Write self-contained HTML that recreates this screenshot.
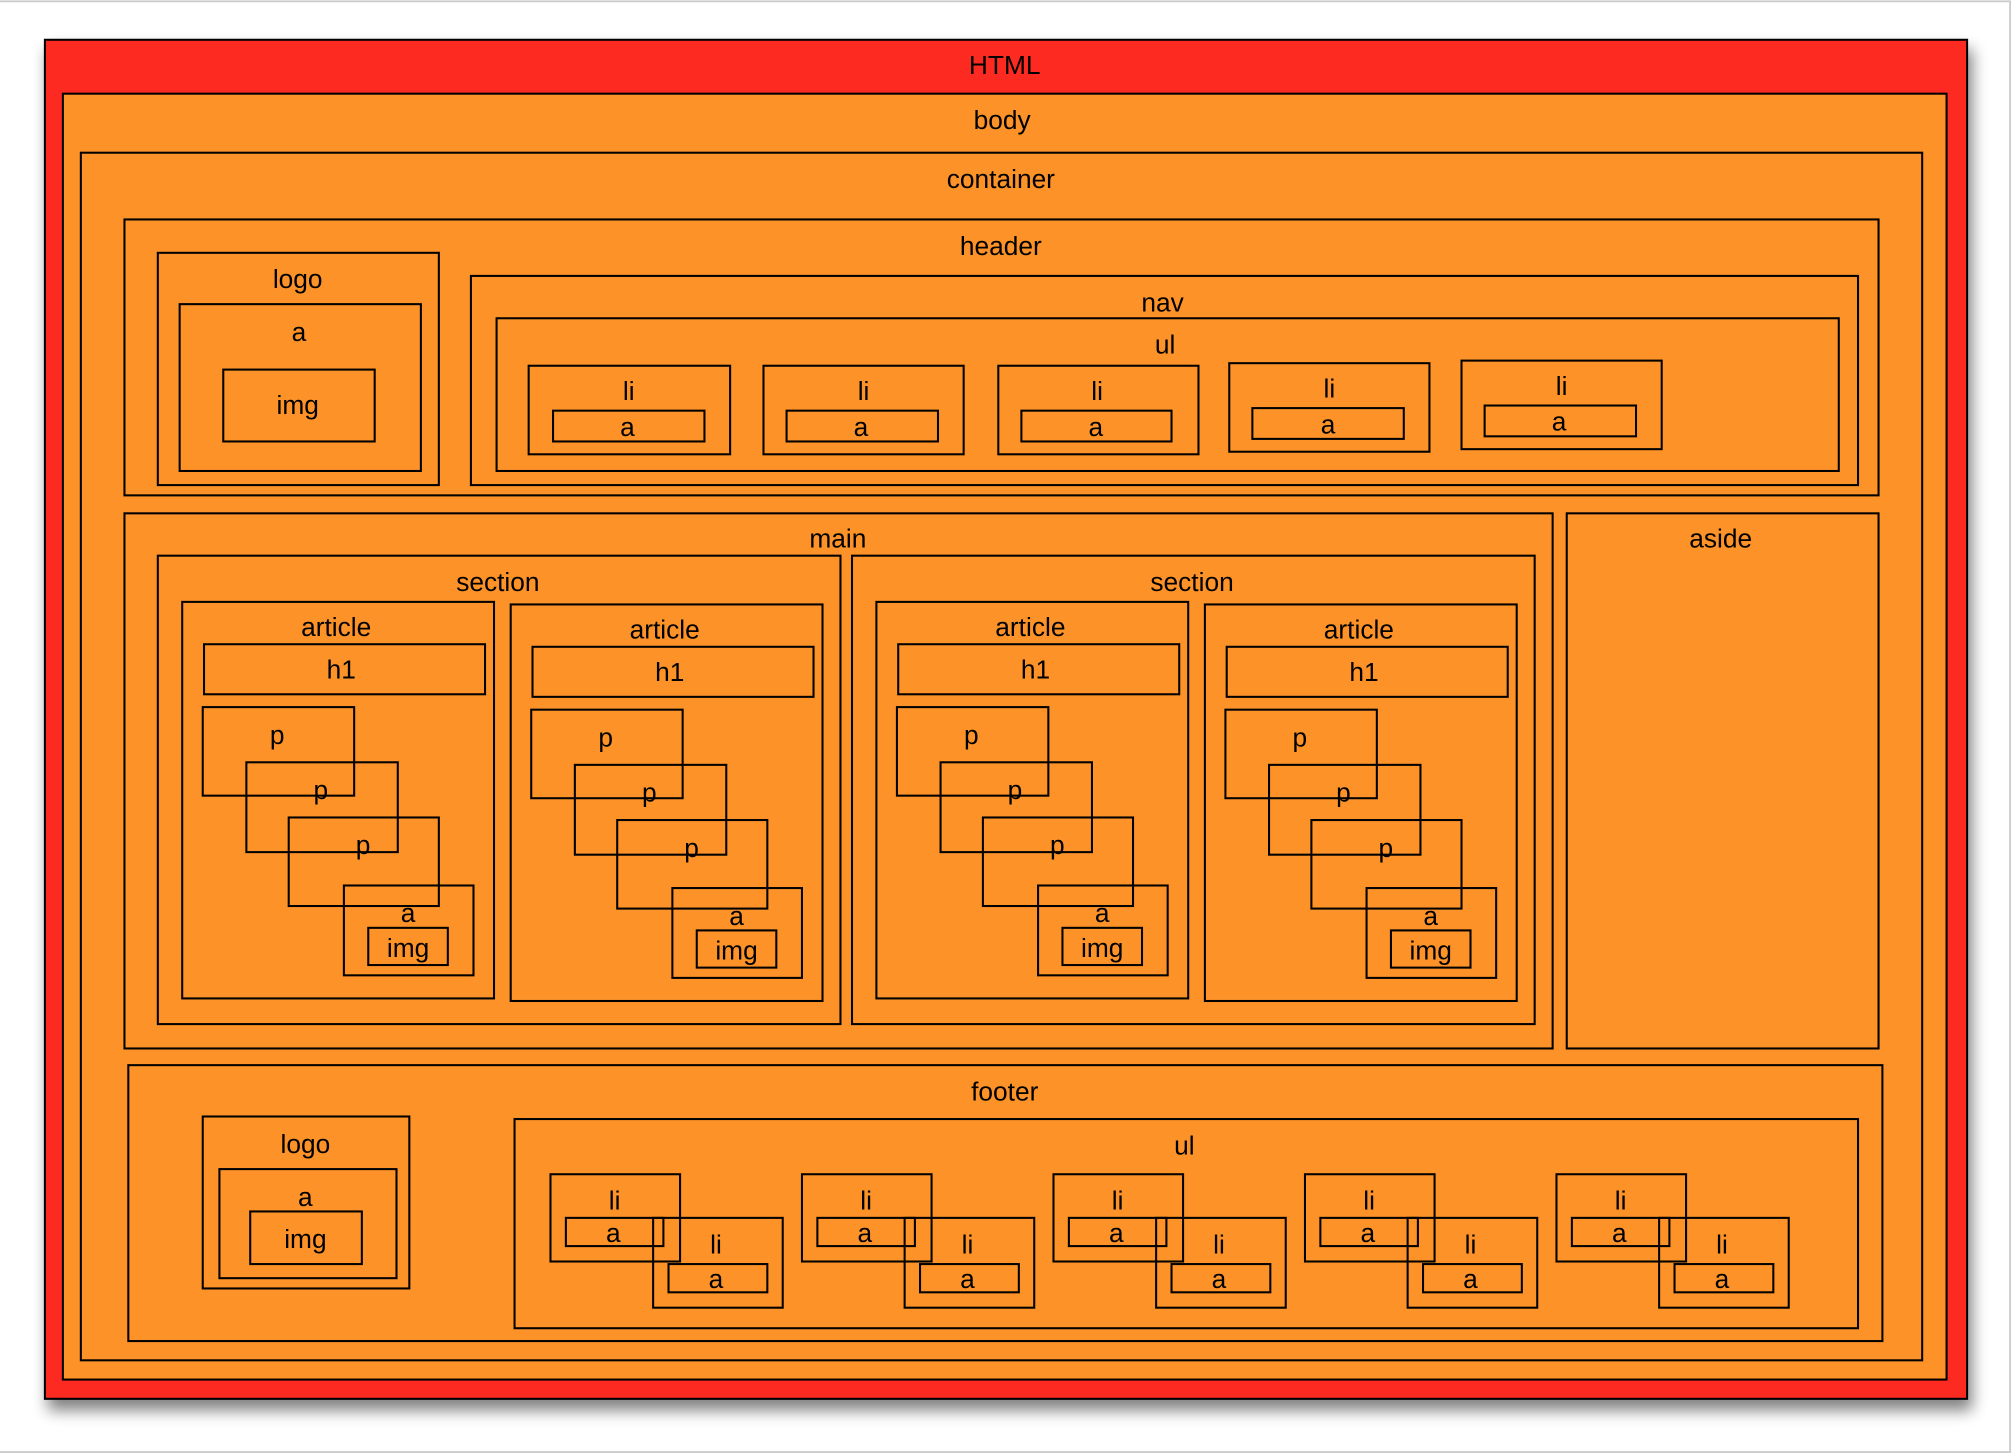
<!DOCTYPE html>
<html><head><meta charset="utf-8"><style>
html,body{margin:0;padding:0;background:#fff;}
svg{display:block;}
text{font-family:"Liberation Sans",sans-serif;font-size:20.5px;fill:#000;text-anchor:middle;dominant-baseline:middle;}
.b{fill:none;stroke:#000;stroke-width:1.6;}
</style></head><body>
<svg width="2012" height="1454" viewBox="0 0 1568 1133" preserveAspectRatio="none" xmlns="http://www.w3.org/2000/svg">
<defs><filter id="sh" x="-5%" y="-5%" width="110%" height="115%"><feGaussianBlur in="SourceAlpha" stdDeviation="6"/><feOffset dx="3" dy="8"/><feComponentTransfer><feFuncA type="linear" slope="0.5"/></feComponentTransfer><feMerge><feMergeNode/><feMergeNode in="SourceGraphic"/></feMerge></filter></defs>
<rect x="0" y="0" width="1568" height="1133" fill="#fff"/>
<path d="M0 1 H1566.5 V1131.5 H0" fill="none" stroke="#ccc" stroke-width="1.5"/>
<rect x="35" y="31" width="1498" height="1059" fill="#FD2C20" stroke="#000" stroke-width="1.6" filter="url(#sh)"/>
<g transform="translate(0,1.2)">
<text x="783" y="51">HTML</text>
</g>
<rect x="49" y="73" width="1468" height="1002" fill="#FC9228" stroke="#000" stroke-width="1.6"/>
<g id="all">
<rect class="b" x="63" y="119" width="1435" height="941"/>
<rect class="b" x="97" y="171" width="1367" height="215"/>
<rect class="b" x="123" y="197" width="219" height="181"/>
<rect class="b" x="140" y="237" width="188" height="130"/>
<rect class="b" x="174" y="288" width="118" height="56"/>
<rect class="b" x="367" y="215" width="1081" height="163"/>
<rect class="b" x="387" y="248" width="1046" height="119"/>
<rect class="b" x="412" y="285" width="157" height="69"/><rect class="b" x="431" y="320" width="118" height="24"/>
<rect class="b" x="595" y="285" width="156" height="69"/><rect class="b" x="613" y="320" width="118" height="24"/>
<rect class="b" x="778" y="285" width="156" height="69"/><rect class="b" x="796" y="320" width="117" height="24"/>
<rect class="b" x="958" y="283" width="156" height="69"/><rect class="b" x="976" y="318" width="118" height="24"/>
<rect class="b" x="1139" y="281" width="156" height="69"/><rect class="b" x="1157" y="316" width="118" height="24"/>
<rect class="b" x="97" y="400" width="1113" height="417"/>
<rect class="b" x="1221" y="400" width="243" height="417"/>
<rect class="b" x="123" y="433" width="532" height="365"/>
<rect class="b" x="664" y="433" width="532" height="365"/>
<g id="art">
<rect class="b" x="142" y="469" width="243" height="309"/>
<rect class="b" x="159" y="502" width="219" height="39"/>
<rect class="b" x="158" y="551" width="118" height="69"/>
<rect class="b" x="192" y="594" width="118" height="70"/>
<rect class="b" x="225" y="637" width="117" height="69"/>
<rect class="b" x="268" y="690" width="101" height="70"/>
<rect class="b" x="287" y="723" width="62" height="29"/>
<g transform="translate(0,1.2)">
<text x="262" y="489">article</text><text x="266" y="522">h1</text><text x="216" y="573">p</text><text x="250" y="616">p</text><text x="283" y="659">p</text><text x="318" y="712">a</text><text x="318" y="739">img</text>
</g>
</g>
<use href="#art" x="256" y="2"/>
<use href="#art" x="541" y="0"/>
<use href="#art" x="797" y="2"/>
<rect class="b" x="100" y="830" width="1367" height="215"/>
<rect class="b" x="158" y="870" width="161" height="134"/>
<rect class="b" x="171" y="911" width="138" height="85"/>
<rect class="b" x="195" y="944" width="87" height="41"/>
<rect class="b" x="401" y="872" width="1047" height="163"/>
<g id="pair">
<rect class="b" x="429" y="915" width="101" height="68"/>
<rect class="b" x="441" y="949" width="76" height="22"/>
<rect class="b" x="509" y="949" width="101" height="70"/>
<rect class="b" x="521" y="985" width="77" height="22"/>
<g transform="translate(0,1.2)"><text x="479" y="936">li</text><text x="478" y="961">a</text><text x="558" y="970">li</text><text x="558" y="997">a</text></g>
</g>
<use href="#pair" x="196" y="0"/>
<use href="#pair" x="392" y="0"/>
<use href="#pair" x="588" y="0"/>
<use href="#pair" x="784" y="0"/>
<g transform="translate(0,1.2)">
<text x="781" y="94">body</text>
<text x="780" y="140">container</text>
<text x="780" y="192">header</text>
<text x="232" y="218">logo</text><text x="233" y="259">a</text><text x="232" y="316">img</text>
<text x="906" y="236">nav</text><text x="908" y="269">ul</text>
<text x="490" y="305">li</text><text x="489" y="333">a</text>
<text x="673" y="305">li</text><text x="671" y="333">a</text>
<text x="855" y="305">li</text><text x="854" y="333">a</text>
<text x="1036" y="303">li</text><text x="1035" y="331">a</text>
<text x="1217" y="301">li</text><text x="1215" y="329">a</text>
<text x="653" y="420">main</text><text x="1341" y="420">aside</text>
<text x="388" y="454">section</text><text x="929" y="454">section</text>
<text x="783" y="851">footer</text>
<text x="238" y="892">logo</text><text x="238" y="933">a</text><text x="238" y="966">img</text>
<text x="923" y="893">ul</text>
</g>
</g>
</svg>
</body></html>
